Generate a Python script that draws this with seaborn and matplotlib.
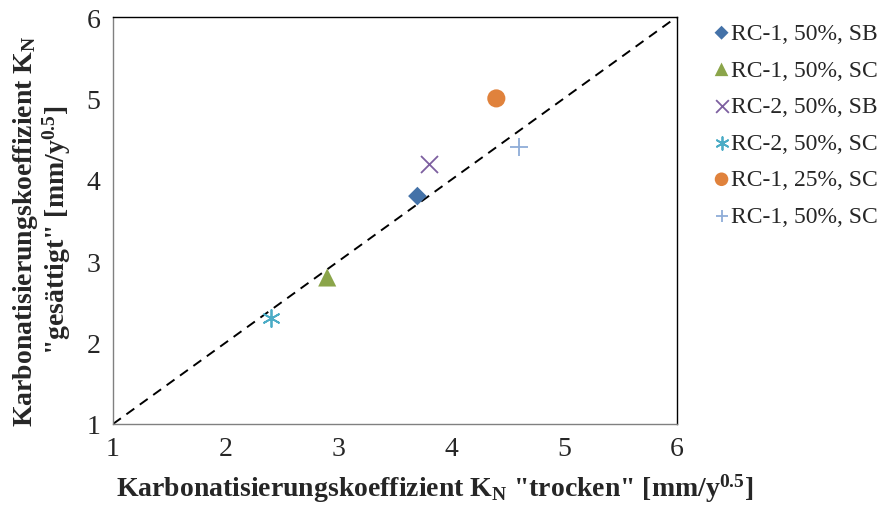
import matplotlib
matplotlib.use("Agg")
import matplotlib.pyplot as plt
import seaborn as sns
import pandas as pd

# Carbonation coefficients: dry (x) vs. saturated (y)
labels = ["RC-1, 50%, SB", "RC-1, 50%, SC", "RC-2, 50%, SB",
          "RC-2, 50%, SC", "RC-1, 25%, SC", "RC-1, 50%, SC"]
k_trocken = [3.7, 2.9, 3.8, 2.4, 4.4, 4.6]
k_gesaettigt = [3.8, 2.8, 4.2, 2.3, 5.0, 4.4]
ticks = [1, 2, 3, 4, 5, 6]

colors = ["#4472A8", "#8BA54A", "#7D5FA0", "#4BACC6", "#E0823C", "#8FADD8"]
markers = ["D", "^", "x", (6, 2, 0), "o", "+"]
sizes = [90, 170, 150, 150, 170, 150]

sns.set_style("white")
plt.rcParams["font.family"] = ["Liberation Serif", "DejaVu Serif"]
plt.rcParams["mathtext.fontset"] = "custom"
plt.rcParams["mathtext.rm"] = "Liberation Serif"
plt.rcParams["mathtext.it"] = "Liberation Serif:italic"
plt.rcParams["mathtext.bf"] = "Liberation Serif:bold"
plt.rcParams["mathtext.default"] = "bf"

df = pd.DataFrame({"label": labels, "x": k_trocken, "y": k_gesaettigt})

fig = plt.figure(figsize=(8.8, 5.1), dpi=100)
ax = fig.add_axes([0.1284, 0.1667, 0.6406, 0.798])

# 1:1 reference line
ax.plot([ticks[0], ticks[-1]], [ticks[0], ticks[-1]], color="black",
        linestyle=(0, (5, 3.5)), linewidth=1.4, zorder=1)

for i, row in df.iterrows():
    m = markers[i]
    filled = m not in ("x", "+") and not isinstance(m, tuple)
    kw = dict(edgecolor="none") if filled else dict(linewidths=1.3)
    sns.scatterplot(x=[row["x"]], y=[row["y"]], ax=ax, marker=m,
                    color=colors[i], s=sizes[i], label=row["label"],
                    zorder=3, **kw)

ax.set_xlim(1, 6)
ax.set_ylim(1, 6)
ax.set_xticks(ticks)
ax.set_yticks(ticks)
ax.tick_params(axis="both", direction="out", length=5, width=1,
               color="#808080", labelsize=20, pad=4)
for s in ax.spines.values():
    s.set_color("#808080")
    s.set_linewidth(1)
for s in ("top", "right"):
    ax.spines[s].set_color("black")

ax.set_xlabel('Karbonatisierungskoeffizient K$_N$ "trocken" [mm/y$^{0.5}$]',
              fontsize=20, fontweight="bold", labelpad=7.5)
ax.set_ylabel('Karbonatisierungskoeffizient K$_N$\n"gesättigt" [mm/y$^{0.5}$]',
              fontsize=20, fontweight="bold", labelpad=10, linespacing=1.0)
ax.xaxis.label.set_x(0.571)
ax.yaxis.label.set_y(0.477)

leg = ax.legend(loc="upper left", bbox_to_anchor=(1.046, 1.01), frameon=False,
                fontsize=17, handletextpad=0.0, labelspacing=0.64,
                borderaxespad=0.0, handlelength=0.8, markerscale=0.75)

fig.savefig("out.png", dpi=100)
